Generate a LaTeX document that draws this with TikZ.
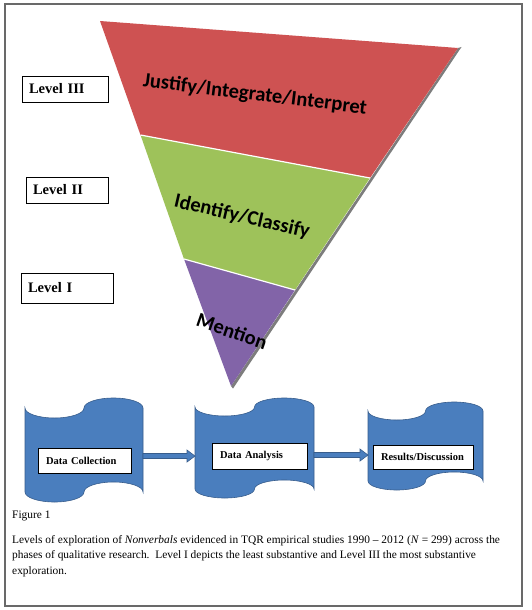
\documentclass[tikz,border=0pt]{standalone}
\usepackage{fontspec}
\setmainfont{Liberation Serif}
\newfontfamily\calib{Carlito}
\usetikzlibrary{calc}
\definecolor{tred}{RGB}{206,82,82}
\definecolor{tgreen}{RGB}{158,194,90}
\definecolor{tpurple}{RGB}{130,100,168}
\definecolor{tblue}{RGB}{74,126,190}
\definecolor{tblueedge}{RGB}{56,93,140}
\definecolor{framegray}{RGB}{105,105,105}
\definecolor{shadowgray}{RGB}{125,125,125}
\newcommand\punchtape[5]{%
  \filldraw[tapestyle] (#1,#3)
    arc[start angle=180,end angle=0,x radius={(#2-#1)/4},y radius=#5]
    arc[start angle=180,end angle=360,x radius={(#2-#1)/4},y radius=#5]
    -- (#2,#4)
    arc[start angle=0,end angle=-180,x radius={(#2-#1)/4},y radius=#5]
    arc[start angle=0,end angle=180,x radius={(#2-#1)/4},y radius=#5]
    -- cycle;}
\tikzset{
  tapestyle/.style={fill=tblue,draw=tblueedge,line width=0.6pt},
  bandtext/.style={font=\calib\bfseries\fontsize{20.5}{22}\selectfont,text=black,inner sep=0pt},
  levelbox/.style={draw=black,line width=0.7pt,fill=white,font=\bfseries\fontsize{14.5}{16}\selectfont,
    inner xsep=7pt,inner ysep=0pt,align=left,anchor=center},
  phasebox/.style={draw=black,line width=0.6pt,fill=white,font=\bfseries\fontsize{10.5}{12}\selectfont,
    inner xsep=8pt,inner ysep=0pt,align=left,anchor=center},
  flowarrow/.style={fill=tblue,draw=tblueedge,line width=0.6pt}
}
\begin{document}
\begin{tikzpicture}[x=1pt,y=-1pt]
\useasboundingbox (0,0) rectangle (531,610);
\fill[white] (0,0) rectangle (531,610);
\draw[framegray,line width=1.3pt] (5,4) rectangle (522,606);
% triangle
\coordinate (T1) at (100,21);
\coordinate (T2) at (458,48);
\coordinate (T3) at (231,386);
\coordinate (L1) at (140.5,135);
\coordinate (R1) at (370,178);
\coordinate (L2) at (184,259);
\coordinate (R2) at (295,290);
\fill[shadowgray] ([xshift=3.5pt,yshift=1pt]T2) -- ([xshift=2pt,yshift=-2.5pt]T3) -- (T3) -- (T2) -- cycle;
\fill[tred] (T1) -- (T2) -- (R1) -- (L1) -- cycle;
\fill[tgreen] (L1) -- (R1) -- (R2) -- (L2) -- cycle;
\fill[tpurple] (L2) -- (R2) -- (T3) -- cycle;
\draw[white,line width=1.2pt] (L1) -- (R1);
\draw[white,line width=1.2pt] (L2) -- (R2);
\node[bandtext,rotate=-7] (b3) at (255,95) {Justify/Integrate/Interpret};
\node[bandtext,rotate=-13] (b2) at (242,217) {Identify/Classify};
\node[bandtext,rotate=-19] (b1) at (232,331) {Mention};
% level boxes
\node[levelbox,text width=72pt,minimum height=26pt] (lv3) at (65,89) {Level III};
\node[levelbox,text width=68pt,minimum height=26pt] (lv2) at (67,190) {Level II};
\node[levelbox,text width=78pt,minimum height=30pt] (lv1) at (67,288) {Level I};
% phases
\punchtape{25}{143}{408}{492}{10}
\punchtape{195}{314}{407}{489}{9}
\punchtape{368}{483}{411}{481}{9}
\node[phasebox,text width=77pt,minimum height=25pt] (p1) at (84.5,460.5) {Data Collection};
\node[phasebox,text width=79pt,minimum height=26pt] (p2) at (259.5,456) {Data Analysis\\[3pt]};
\node[phasebox,text width=84pt,minimum height=24pt] (p3) at (423,457) {Results/Discussion\\[1pt]};
\coordinate (a1s) at (143,456);
\coordinate (a1e) at (195,456);
\coordinate (a2s) at (314,455);
\coordinate (a2e) at (368,455);
\foreach \s/\e in {a1s/a1e,a2s/a2e}{
  \filldraw[flowarrow] ($(\s)+(0,-2.5)$) -- ($(\e)+(-8,-2.5)$) -- ($(\e)+(-8,-6)$) -- (\e)
    -- ($(\e)+(-8,6)$) -- ($(\e)+(-8,2.5)$) -- ($(\s)+(0,2.5)$) -- cycle;
}
% caption
\node[anchor=base west,inner sep=0pt,font=\fontsize{11.4}{13}\selectfont] (fig) at (12,518) {Figure 1};
\node[anchor=north west,inner sep=0pt,align=left,font=\fontsize{11.4}{15.2}\selectfont] (cap) at (12,535.5)
{Levels of exploration of \textit{Nonverbals} evidenced in TQR empirical studies 1990 -- 2012 (\textit{N} = 299) across the\\
phases of qualitative research.\ \ Level I depicts the least substantive and Level III the most substantive\\
exploration.};
\end{tikzpicture}
\end{document}
